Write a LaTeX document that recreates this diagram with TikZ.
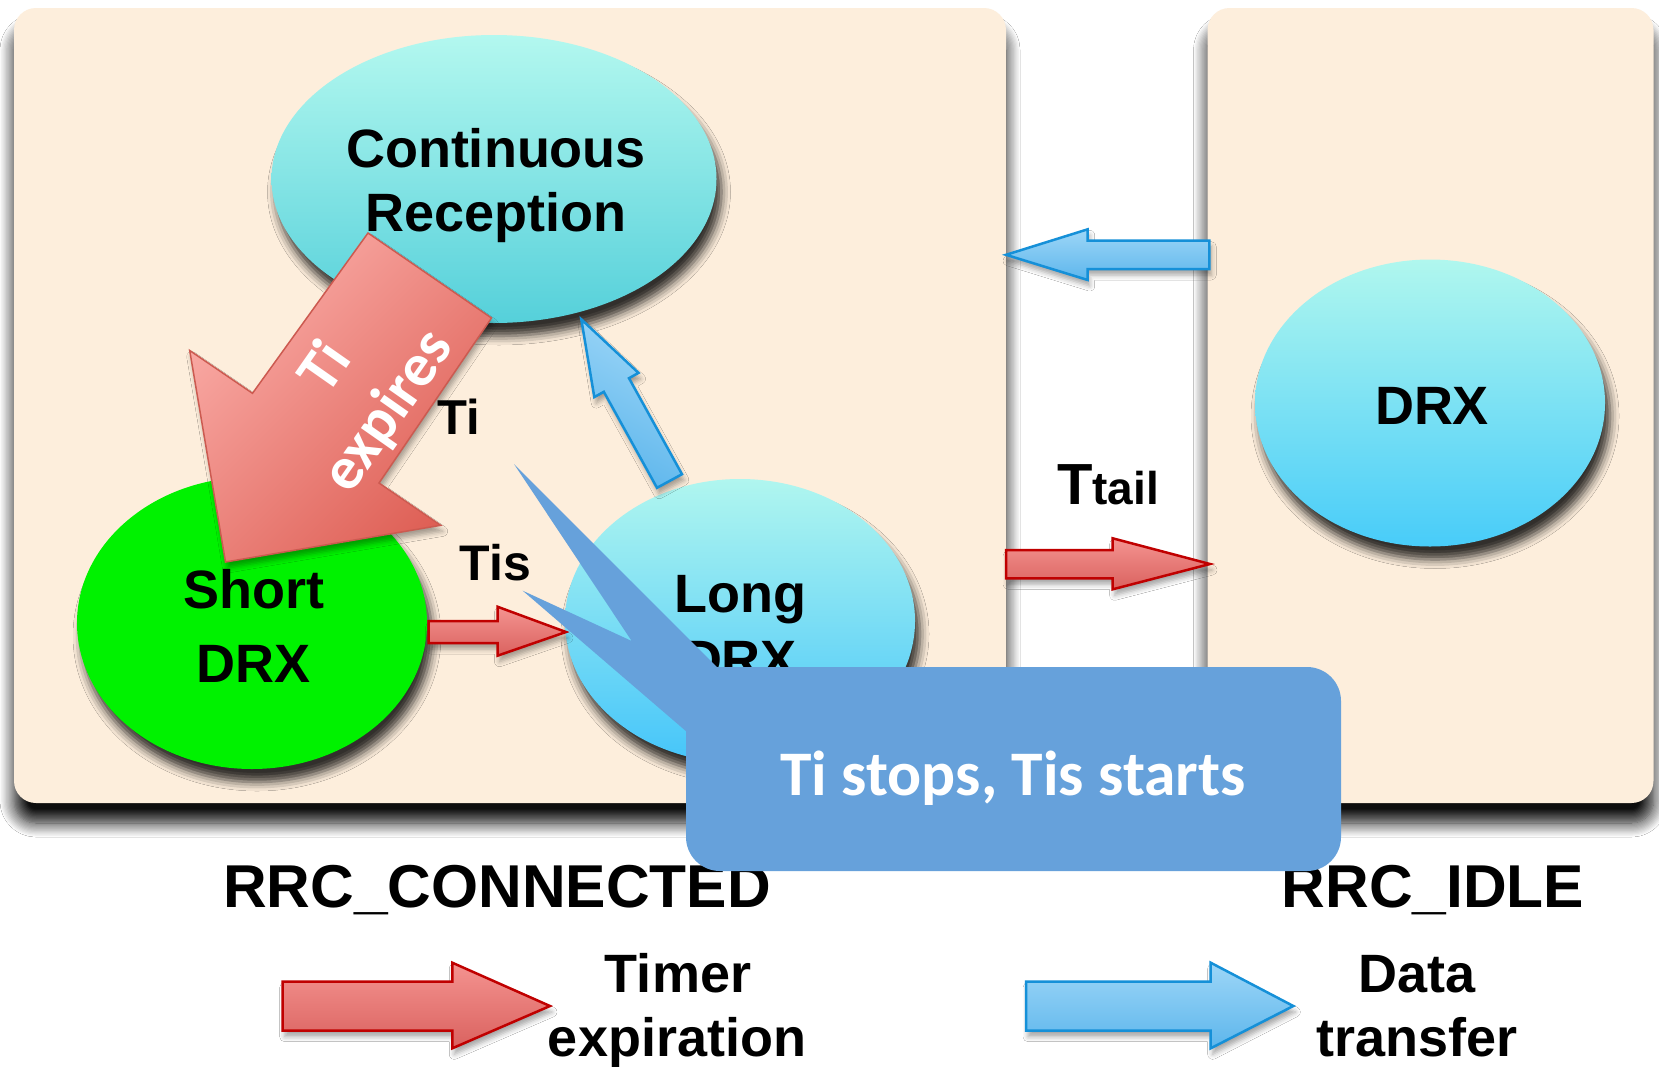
\documentclass[tikz,border=0pt]{standalone}
\usepackage{fontspec}
\setmainfont{Liberation Sans}
\newfontfamily\carl{Carlito}
\usetikzlibrary{shapes.geometric,shadows.blur}
\definecolor{panelc}{HTML}{FDEEDC}
\definecolor{greenc}{HTML}{00F200}
\definecolor{crtop}{HTML}{B3F8EF}
\definecolor{crbot}{HTML}{55D0DA}
\definecolor{ldtop}{HTML}{B0F6EF}
\definecolor{ldbot}{HTML}{45C5FA}
\definecolor{drxtop}{HTML}{B0F7EE}
\definecolor{drxbot}{HTML}{48CCF9}
\definecolor{redtop}{HTML}{F49390}
\definecolor{redbot}{HTML}{DA625F}
\definecolor{redline}{HTML}{C00000}
\definecolor{bigredlt}{HTML}{FAACA7}
\definecolor{bigreddk}{HTML}{DE5F55}
\definecolor{bigredline}{HTML}{CC5A50}
\definecolor{bluetop}{HTML}{9DD6F7}
\definecolor{bluebot}{HTML}{5DB6EC}
\definecolor{blueline}{HTML}{1590D8}
\definecolor{calloutc}{HTML}{66A1DB}
\begin{document}
\begin{tikzpicture}[x=1pt,y=-1pt,
  panel/.style={rectangle, rounded corners=22pt, fill=panelc, inner sep=0pt,
    blur shadow={shadow xshift=0pt, shadow yshift=-20pt, shadow blur radius=14pt, shadow opacity=95, shadow blur steps=12}},
  state/.style={ellipse, inner sep=0pt,
    blur shadow={shadow xshift=5pt, shadow yshift=-13pt, shadow blur radius=9pt, shadow opacity=80}},
  lbl/.style={inner sep=0pt, anchor=base, font=\bfseries\fontsize{54}{60}\selectfont},
  arrshadow/.style={blur shadow={shadow xshift=2pt, shadow yshift=-6pt, shadow blur radius=5pt, shadow opacity=35}},
  redarr/.style={draw=redline, line width=2.5pt, top color=redtop, bottom color=redbot, arrshadow},
  bluearr/.style={draw=blueline, line width=2.5pt, top color=bluetop, bottom color=bluebot, arrshadow},
  callout/.style={fill=calloutc, draw=none}]
\useasboundingbox (0,0) rectangle (1659,1066);
\fill[white] (0,0) rectangle (1659,1066);

% panels
\node[panel, minimum width=992pt, minimum height=795pt] (conn) at (510,405.5) {};
\node[panel, minimum width=446pt, minimum height=795pt] (idle) at (1430.5,405.5) {};

% arrows between panels
\path[bluearr] (1209.3,240.7) -- (1087.7,240.7) -- (1087.7,229.3) -- (1006,254.8) -- (1087.7,280) -- (1087.7,269) -- (1209.3,269) -- cycle;
\path[redarr] (1006,550) -- (1112.7,550) -- (1112.7,538.3) -- (1210,564) -- (1112.7,589.3) -- (1112.7,578.3) -- (1006,578.3) -- cycle;
\node[inner sep=0pt, anchor=base] (ttail) at (1108,504) {\bfseries{\fontsize{58}{60}\selectfont T}{\fontsize{46}{48}\selectfont tail}};

% states
\node[state, top color=crtop, bottom color=crbot, minimum width=445pt, minimum height=288pt] (cr) at (494,179) {};
\node[state, fill=greenc, minimum width=350pt, minimum height=292pt] (sd) at (252,623) {};
\node[state, top color=ldtop, bottom color=ldbot, minimum width=350pt, minimum height=284pt] (ld) at (740,621) {};
\node[state, top color=drxtop, bottom color=drxbot, minimum width=350pt, minimum height=287pt] (drx) at (1430,403) {};

\node[lbl] (cr1) at (496,167) {Continuous};
\node[lbl] (cr2) at (496,231) {Reception};
\node[lbl] (sd1) at (254,608) {Short};
\node[lbl] (sd2) at (254,682) {DRX};
\node[lbl] (ld1) at (740,612) {Long};
\node[lbl] (ld2) at (740,678) {DRX};
\node[lbl] (drxt) at (1432,424) {DRX};

% big red arrow: Ti expires
\path[draw=bigredline, line width=1.5pt, top color=bigredlt, bottom color=bigreddk, shading angle=45, arrshadow]
  (368,233) -- (491.5,318) -- (379,483) -- (440.7,525.3) -- (225.5,562) -- (189.7,350.5) -- (252.5,393.3) -- cycle;
\node[rotate=55, inner sep=0pt, align=center, text=white, font=\carl\bfseries\fontsize{61}{76}\selectfont] (tiexp) at (358,390) {Ti\\expires};

% Tis arrow Short -> Long
\path[redarr] (428.6,621) -- (497.5,621) -- (497.5,606.7) -- (566,632) -- (497.5,655.7) -- (497.5,643) -- (428.6,643) -- cycle;
% blue arrow Long -> Continuous
\path[bluearr, shading angle=-28] (581.3,319.3) -- (638.5,372.9) -- (629,378.2) -- (682,474.2) -- (657,487.8) -- (603.8,391.8) -- (594.3,397.1) -- cycle;

\node[lbl, font=\bfseries\fontsize{49}{54}\selectfont] (ti) at (459,434) {Ti};
\node[lbl, font=\bfseries\fontsize{50}{56}\selectfont] (tis) at (495.5,580.5) {Tis};

% bottom labels
\node[lbl, font=\bfseries\fontsize{60.5}{66}\selectfont] (rrcc) at (497,907) {RRC\_CONNECTED};
\node[lbl, font=\bfseries\fontsize{60.5}{66}\selectfont] (rrci) at (1433,907) {RRC\_IDLE};

% legend
\path[redarr] (282.7,981.5) -- (452.3,981.5) -- (452.3,962.7) -- (550,1006) -- (452.3,1048.3) -- (452.3,1030.7) -- (282.7,1030.7) -- cycle;
\path[bluearr] (1026,981.5) -- (1210.7,981.5) -- (1210.7,962.7) -- (1293.3,1006) -- (1210.7,1048.3) -- (1210.7,1030.7) -- (1026,1030.7) -- cycle;
\node[lbl] (lg1a) at (678,992) {Timer};
\node[lbl] (lg1b) at (677,1056) {expiration};
\node[lbl] (lg2a) at (1417,992) {Data};
\node[lbl] (lg2b) at (1417,1056) {transfer};

% callout
\node[callout, rectangle, rounded corners=34pt, minimum width=655pt, minimum height=204pt, inner sep=0pt] (co) at (1013.5,769) {};
\path[callout] (514,464) -- (725,675) -- (725,745) -- (700,743.2) -- (522.7,590.7) -- (631.7,641) -- cycle;
\node[inner sep=0pt, anchor=base, text=white, font=\carl\bfseries\fontsize{63.5}{70}\selectfont] (cot) at (1013,795) {Ti stops, Tis starts};
\end{tikzpicture}
\end{document}
